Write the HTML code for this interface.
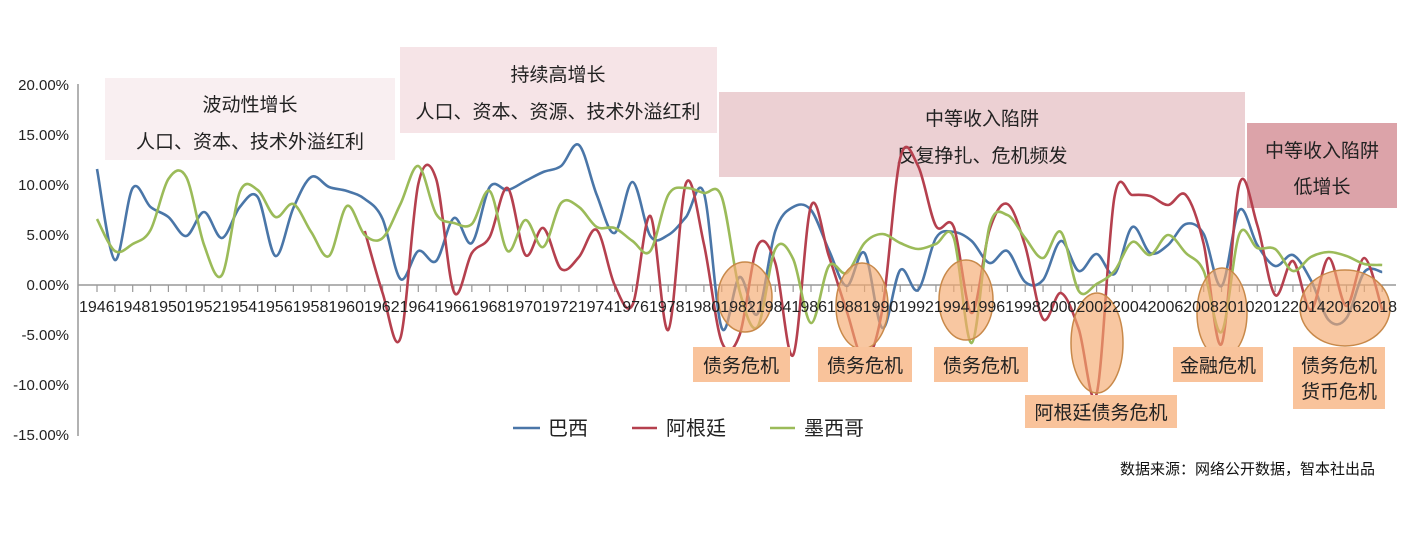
<!DOCTYPE html>
<html><head><meta charset="utf-8"><style>
body{margin:0;background:#fff;width:1408px;height:540px;overflow:hidden;font-family:"Liberation Sans","Noto Sans CJK SC",sans-serif}
svg{display:block}
</style></head><body>
<svg id="s" width="1408" height="540" xmlns="http://www.w3.org/2000/svg" font-family="Liberation Sans, Noto Sans CJK SC, sans-serif">
<rect x="105" y="78" width="290" height="82" fill="#f9eff1"/>
<rect x="400" y="47" width="317" height="86" fill="#f6e4e7"/>
<rect x="719" y="92" width="526" height="85" fill="#ecd0d3"/>
<rect x="1247" y="123" width="150" height="85" fill="#dca3a9"/>
<g font-size="19" fill="#222" text-anchor="middle">
<text x="250" y="111">波动性增长</text>
<text x="250" y="148">人口、资本、技术外溢红利</text>
<text x="558" y="81">持续高增长</text>
<text x="558" y="118">人口、资本、资源、技术外溢红利</text>
<text x="982" y="125">中等收入陷阱</text>
<text x="982" y="162">反复挣扎、危机频发</text>
<text x="1322" y="157">中等收入陷阱</text>
<text x="1322" y="193">低增长</text>
</g>
<g font-size="15" fill="#222" text-anchor="end">
<text x="69" y="90">20.00%</text><text x="69" y="140">15.00%</text><text x="69" y="190">10.00%</text><text x="69" y="240">5.00%</text><text x="69" y="290">0.00%</text><text x="69" y="340">-5.00%</text><text x="69" y="390">-10.00%</text><text x="69" y="440">-15.00%</text>
</g>
<line x1="78" y1="84" x2="78" y2="436" stroke="#999" stroke-width="1.5"/>
<line x1="78" y1="285" x2="1396" y2="285" stroke="#999" stroke-width="1.5"/>
<g id="ticks" stroke="#999" stroke-width="1.2"></g>
<g id="yl" font-size="16" fill="#222"></g>
<g id="lines" fill="none" stroke-width="2.6" stroke-linejoin="round"></g>
<g fill="#f5a96e" fill-opacity="0.65" stroke="#c8894a" stroke-width="1.5">
<ellipse cx="745" cy="297" rx="27" ry="35"/>
<ellipse cx="862" cy="306" rx="26" ry="43"/>
<ellipse cx="966" cy="300" rx="27" ry="40"/>
<ellipse cx="1097" cy="343" rx="26" ry="50"/>
<ellipse cx="1222" cy="313" rx="25" ry="45"/>
<ellipse cx="1345" cy="308" rx="45" ry="38"/>
</g>
<g fill="#f9c39b">
<rect x="693" y="347" width="97" height="35"/>
<rect x="818" y="347" width="94" height="35"/>
<rect x="934" y="347" width="94" height="35"/>
<rect x="1025" y="395" width="152" height="33"/>
<rect x="1173" y="347" width="90" height="35"/>
<rect x="1293" y="347" width="92" height="62"/>
</g>
<g font-size="19" fill="#222" text-anchor="middle">
<text x="741" y="372">债务危机</text>
<text x="865" y="372">债务危机</text>
<text x="981" y="372">债务危机</text>
<text x="1101" y="419">阿根廷债务危机</text>
<text x="1218" y="372">金融危机</text>
<text x="1339" y="372">债务危机</text>
<text x="1339" y="398">货币危机</text>
</g>
<line x1="513" y1="428" x2="540" y2="428" stroke="#4a76a8" stroke-width="2.6"/>
<line x1="632" y1="428" x2="657" y2="428" stroke="#b5404e" stroke-width="2.6"/>
<line x1="770" y1="428" x2="795" y2="428" stroke="#9bbb59" stroke-width="2.6"/>
<g font-size="20" fill="#222">
<text x="548" y="435">巴西</text>
<text x="666" y="435">阿根廷</text>
<text x="804" y="435">墨西哥</text>
</g>
<text x="1375" y="474" font-size="15" fill="#111" text-anchor="end">数据来源：网络公开数据，智本社出品</text>
<g font-size="16" fill="#222">
<text x="79" y="312" textLength="1318" lengthAdjust="spacingAndGlyphs">1946194819501952195419561958196019621964196619681970197219741976197819801982198419861988199019921994199619982000200220042006200820102012201420162018</text>
</g>
</svg>
<script>
var X=function(y){return 97+(y-1946)*17.85},Y=function(v){return 285-v*10};
var br=[11.6,2.5,9.7,7.8,6.8,4.9,7.3,4.7,7.8,8.8,2.9,7.7,10.8,9.8,9.4,8.6,6.6,0.6,3.4,2.4,6.7,4.2,9.8,9.5,10.4,11.3,11.9,14.0,9.0,5.2,10.3,4.9,5.0,6.8,9.2,-4.3,0.8,-2.9,5.4,7.8,7.5,3.5,-0.1,3.2,-4.3,1.5,-0.5,4.7,5.3,4.4,2.2,3.4,0.3,0.5,4.4,1.4,3.1,1.1,5.8,3.2,4.0,6.1,5.1,-0.1,7.5,4.0,1.9,3.0,0.5,-3.5,-3.3,1.3,1.3];
var ar=[5.4,-0.8,-5.3,10.1,10.6,-0.7,3.2,4.8,9.7,3.0,5.7,1.6,2.8,5.5,0.0,-2.0,6.9,-4.5,10.2,4.1,-5.7,-5.0,3.9,2.2,-7.0,7.9,2.9,-2.6,-7.5,-2.4,12.7,11.9,5.9,5.8,-2.8,5.5,8.1,3.9,-3.4,-0.8,-4.4,-10.9,8.8,9.0,8.9,8.0,9.0,4.1,-5.9,10.1,6.0,-1.0,2.4,-2.5,2.7,-2.1,2.7,-2.5];
var mx=[6.6,3.4,4.1,5.5,10.6,10.8,4.0,1.0,9.3,9.5,6.8,8.1,5.3,2.9,7.9,5.0,4.7,8.1,11.9,7.1,6.2,6.1,9.4,3.4,6.5,3.8,8.2,7.8,5.8,5.7,4.4,3.4,9.0,9.7,9.2,8.8,-0.6,-4.2,3.6,2.6,-3.8,1.9,1.2,4.2,5.1,4.2,3.6,4.1,4.7,-5.8,5.9,7.0,4.7,2.7,5.3,-0.6,0.1,1.4,4.3,3.0,5.0,3.2,1.4,-4.7,5.1,3.7,3.6,1.4,2.8,3.3,2.9,2.1,2.0];
function path(d,start){var p=d.map(function(v,i){return[X(start+i),Y(v)]});var s="M"+p[0][0]+","+p[0][1];
for(var i=0;i<p.length-1;i++){var a=p[i-1]||p[i],b=p[i],c=p[i+1],e=p[i+2]||c;
s+=" C"+(b[0]+(c[0]-a[0])/6)+","+(b[1]+(c[1]-a[1])/6)+" "+(c[0]-(e[0]-b[0])/6)+","+(c[1]-(e[1]-b[1])/6)+" "+c[0]+","+c[1];}return s;}
var g=document.getElementById("lines"),ns="http://www.w3.org/2000/svg";
[[br,1946,"#4a76a8"],[ar,1961,"#b5404e"],[mx,1946,"#9bbb59"]].forEach(function(q){var e=document.createElementNS(ns,"path");e.setAttribute("d",path(q[0],q[1]));e.setAttribute("stroke",q[2]);g.appendChild(e);});
var t=document.getElementById("ticks");for(var y=1946;y<=2018;y++){var l=document.createElementNS(ns,"line");l.setAttribute("x1",X(y));l.setAttribute("x2",X(y));l.setAttribute("y1",285);l.setAttribute("y2",292);t.appendChild(l);}
</script>
</body></html>
